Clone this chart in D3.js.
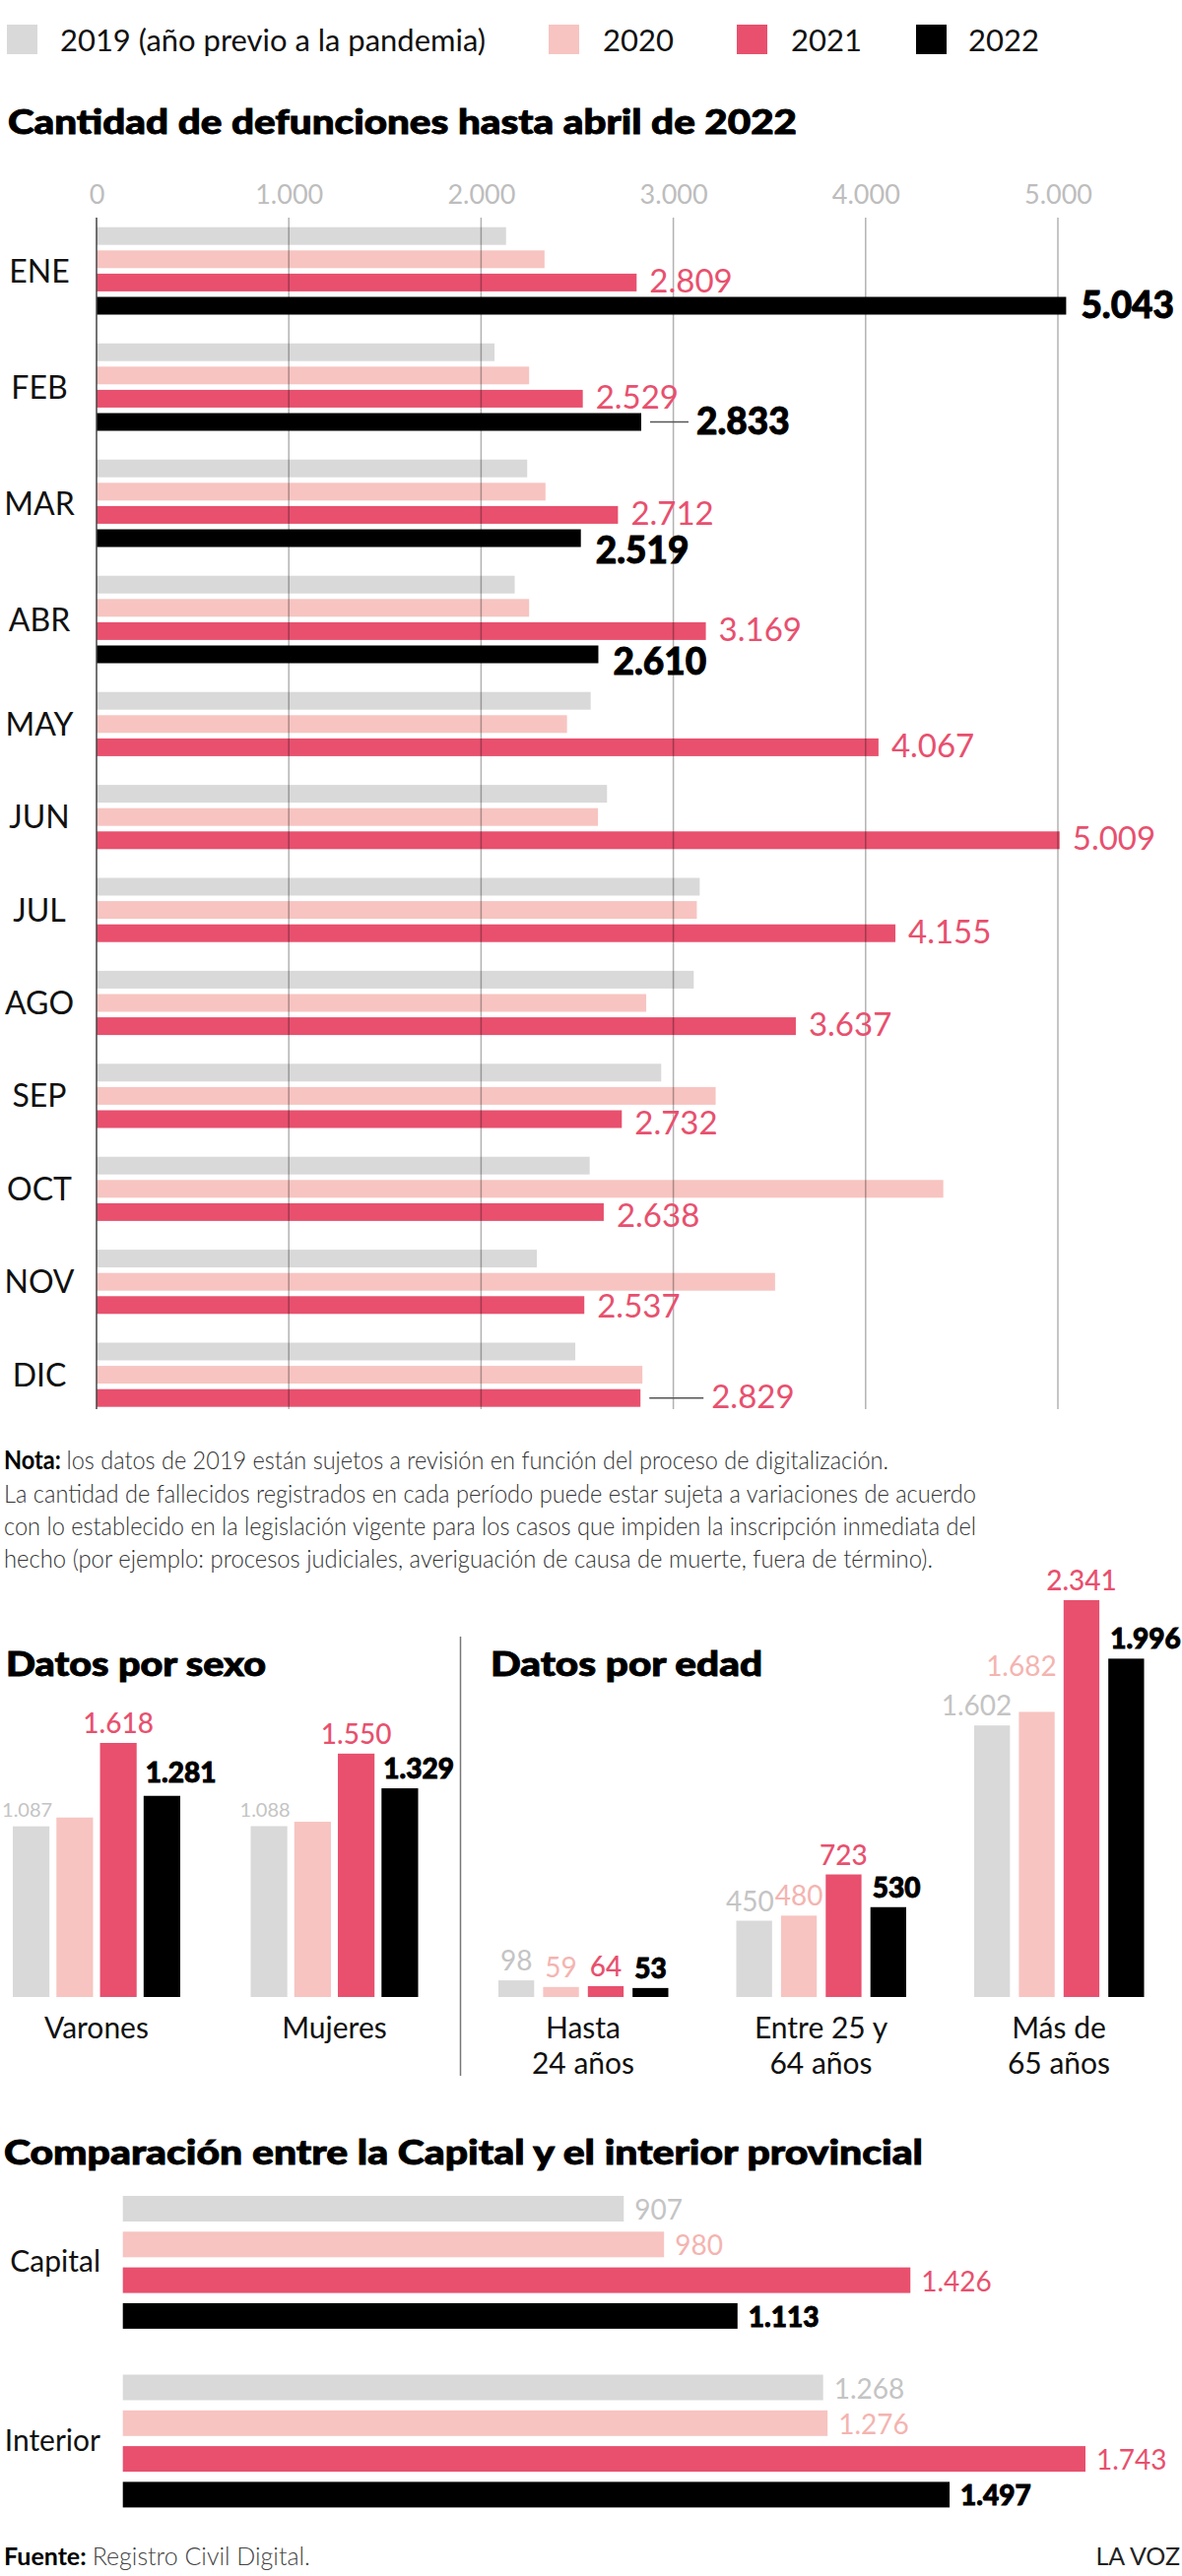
<!DOCTYPE html>
<html>
<head>
<meta charset="utf-8">
<script src="https://cdn.jsdelivr.net/npm/d3@7"></script>
<style>
	body { margin: 0; background: #fff; }
	svg text { font-family: Lato, "Open Sans", sans-serif; }
	.heavy { stroke: #000; stroke-width: 0.9; paint-order: stroke; }
</style>
</head>
<body>
<svg id="grafico" width="1200" height="2616"></svg>
<script>
// Datos
const years = ["2019", "2020", "2021", "2022"];
const yearNames = ["2019 (año previo a la pandemia)", "2020", "2021", "2022"];
const months = ["ENE", "FEB", "MAR", "ABR", "MAY", "JUN", "JUL", "AGO", "SEP", "OCT", "NOV", "DIC"];
const deaths2019 = [2130, 2070, 2240, 2175, 2570, 2655, 3137, 3106, 2937, 2565, 2290, 2490];
const deaths2020 = [2330, 2250, 2335, 2250, 2447, 2608, 3122, 2859, 3220, 4404, 3529, 2839];
const deaths2021 = [2809, 2529, 2712, 3169, 4067, 5009, 4155, 3637, 2732, 2638, 2537, 2829];
const deaths2022 = [5043, 2833, 2519, 2610, null, null, null, null, null, null, null, null];
const axisTicks = [0, 1000, 2000, 3000, 4000, 5000];

const sexCats = ["Varones", "Mujeres"];
const sex2019 = [1087, 1088];
const sex2020 = [1143, 1116];
const sex2021 = [1618, 1550];
const sex2022 = [1281, 1329];

const ageCats = [["Hasta", "24 años"], ["Entre 25 y", "64 años"], ["Más de", "65 años"]];
const age2019 = [98, 450, 1602];
const age2020 = [59, 480, 1682];
const age2021 = [64, 723, 2341];
const age2022 = [53, 530, 1996];

const regionCats = ["Capital", "Interior"];
const region2019 = [907, 1268];
const region2020 = [980, 1276];
const region2021 = [1426, 1743];
const region2022 = [1113, 1497];

const noteLines = [
	"los datos de 2019 están sujetos a revisión en función del proceso de digitalización.",
	"La cantidad de fallecidos registrados en cada período puede estar sujeta a variaciones de acuerdo",
	"con lo establecido en la legislación vigente para los casos que impiden la inscripción inmediata del",
	"hecho (por ejemplo: procesos judiciales, averiguación de causa de muerte, fuera de término)."
];

// Estilos
const barColors = ["#d9d9d9", "#f7c4c1", "#e8506e", "#000000"];
const textColors = ["#c4c4c4", "#f4b4b0", "#e8506e", "#000000"];
const fmt = d3.formatLocale({ decimal: ",", thousands: ".", grouping: [3], currency: ["$", ""] }).format(",d");

const svg = d3.select("#grafico");

// Leyenda
const legendX = [[7, 61], [557, 612], [748, 803], [930, 983]];
const legend = svg.append("g").attr("class", "legend");
yearNames.forEach((name, i) => {
	legend.append("rect")
		.attr("x", legendX[i][0]).attr("y", 25)
		.attr("width", 31).attr("height", 30)
		.attr("fill", barColors[i]);
	const t = legend.append("text")
		.attr("x", legendX[i][1]).attr("y", 52)
		.attr("font-size", 31)
		.attr("fill", "#111")
		.text(name);
	if (i === 0) t.attr("textLength", 432).attr("lengthAdjust", "spacingAndGlyphs");
});

const title = (txt, x, y, len) => svg.append("text")
	.attr("class", "heavy")
	.attr("x", x).attr("y", y)
	.attr("font-size", 35).attr("font-weight", 900)
	.attr("textLength", len).attr("lengthAdjust", "spacingAndGlyphs")
	.text(txt);

// ---------- Cantidad de defunciones por mes ----------
title("Cantidad de defunciones hasta abril de 2022", 8, 136, 801);

const series = [deaths2019, deaths2020, deaths2021, deaths2022];
const rows = [];
const groups = [];
let slot = 0;
months.forEach((m, i) => {
	const first = slot;
	series.forEach((s, j) => {
		if (s[i] != null) rows.push({ month: m, year: j, value: s[i], slot: slot++ });
	});
	groups.push({ month: m, first: first, last: slot - 1 });
	slot++; // hueco entre meses
});

const barH = 18;
const x = d3.scaleLinear().domain([0, 5000]).range([98, 1074]);
const y = d3.scaleLinear().domain([0, slot]).range([230.7, 230.7 + slot * 23.6]);

svg.append("g")
	.attr("class", "x axis")
	.attr("transform", "translate(0,207)")
	.call(d3.axisTop(x).tickValues(axisTicks).tickFormat(fmt).tickSize(0).tickPadding(0))
	.call(g => g.select(".domain").remove())
	.selectAll("text")
	.attr("font-size", 27)
	.attr("font-family", "Lato, sans-serif")
	.attr("fill", "#bdbdbd");

svg.append("g")
	.attr("class", "bars")
	.selectAll("rect")
	.data(rows)
	.enter()
	.append("rect")
	.attr("x", x(0))
	.attr("y", d => y(d.slot))
	.attr("width", d => x(d.value) - x(0))
	.attr("height", barH)
	.attr("fill", d => barColors[d.year]);

// lineas de la grilla por encima de las barras
svg.append("g")
	.selectAll("line")
	.data(axisTicks.slice(1))
	.enter()
	.append("line")
	.attr("x1", d => x(d)).attr("x2", d => x(d))
	.attr("y1", 221).attr("y2", 1431)
	.attr("stroke", "#000").attr("stroke-opacity", 0.3)
	.attr("stroke-width", 1.5);
svg.append("line")
	.attr("x1", x(0)).attr("x2", x(0))
	.attr("y1", 221).attr("y2", 1431)
	.attr("stroke", "#444").attr("stroke-width", 1.5);

svg.append("g")
	.selectAll("text")
	.data(groups)
	.enter()
	.append("text")
	.attr("x", 40)
	.attr("y", d => (y(d.first) + y(d.last) + barH) / 2 + 11.5)
	.attr("text-anchor", "middle")
	.attr("font-size", 32)
	.attr("fill", "#111")
	.text(d => d.month);

// etiquetas: 2021 y 2022
const nudge = { "ENE-3": 2, "FEB-3": 2, "MAR-3": 15, "ABR-3": 10, "SEP-2": 5, "OCT-2": 5, "NOV-2": 3 };
const leader = { "FEB-3": 39, "DIC-2": 55 };
const labeled = rows.filter(d => d.year >= 2);
labeled.forEach(d => {
	const key = d.month + "-" + d.year;
	const end = x(d.value);
	let tx = end + (d.year === 3 ? 15 : 13);
	if (leader[key]) {
		svg.append("line")
			.attr("x1", end + 9).attr("x2", end + 9 + leader[key])
			.attr("y1", y(d.slot) + barH / 2).attr("y2", y(d.slot) + barH / 2)
			.attr("stroke", "#555").attr("stroke-width", 1.5);
		tx = end + 17 + leader[key];
	}
	svg.append("text")
		.attr("class", d.year === 3 ? "heavy" : null)
		.attr("x", tx)
		.attr("y", y(d.slot) + barH + 1 + (nudge[key] || 0))
		.attr("font-size", d.year === 3 ? 37 : 33)
		.attr("font-weight", d.year === 3 ? 900 : 400)
		.attr("fill", textColors[d.year])
		.text(fmt(d.value));
});

// ---------- Nota ----------
const noteY = [1492, 1526, 1559, 1592];
const noteLen = [898, 987, 987, 943];
noteLines.forEach((line, i) => {
	const t = svg.append("text")
		.attr("x", 4).attr("y", noteY[i])
		.attr("font-size", 26)
		.attr("textLength", noteLen[i]).attr("lengthAdjust", "spacingAndGlyphs")
		.attr("fill", "#333").attr("font-weight", 300);
	if (i === 0) {
		t.append("tspan").attr("font-weight", 700).attr("fill", "#000").text("Nota: ");
	}
	t.append("tspan").text(line);
});

// ---------- Datos por sexo / edad ----------
title("Datos por sexo", 6, 1702, 264);
title("Datos por edad", 498, 1702, 276);
svg.append("line")
	.attr("x1", 467.5).attr("x2", 467.5)
	.attr("y1", 1662).attr("y2", 2108)
	.attr("stroke", "#777").attr("stroke-width", 1.5);

const base = 2028;
const i2k = (cats, i) => Array.isArray(cats[i]) ? cats[i].join(" ") : cats[i];
const columnChart = (cats, vals, x0, x1, yS, opts) => {
	const data = [];
	cats.forEach((c, i) => vals.forEach((v, j) => data.push({ cat: i, year: j, value: v[i] })));
	const g = svg.append("g");
	g.selectAll("rect")
		.data(data)
		.enter()
		.append("rect")
		.attr("x", d => x0(i2k(cats, d.cat)) + x1(years[d.year]))
		.attr("y", d => yS(d.value))
		.attr("width", x1.bandwidth())
		.attr("height", d => base - yS(d.value))
		.attr("fill", d => barColors[d.year]);
	g.selectAll("text.val")
		.data(data.filter(d => opts.show.includes(d.year)))
		.enter()
		.append("text")
		.attr("class", d => d.year === 3 ? "val heavy" : "val")
		.each(function(d) {
			const bx = x0(i2k(cats, d.cat)) + x1(years[d.year]);
			const w = x1.bandwidth();
			const n = opts.nudge[d.cat + "-" + d.year] || opts.nudge["*-" + d.year] || {};
			const anchor = n.anchor || ["end", "middle", "middle", "start"][d.year];
			const tx = anchor === "end" ? bx + w + 2 : anchor === "start" ? bx + 2 : bx + w / 2;
			d3.select(this)
				.attr("x", tx + (n.dx || 0))
				.attr("y", yS(d.value) - 10 - (n.dy || 0))
				.attr("text-anchor", anchor)
				.attr("font-size", d.year === 0 ? opts.grayFont : 28)
				.attr("font-weight", d.year === 3 ? 900 : d.year === 2 ? 500 : 400)
				.attr("fill", textColors[d.year])
				.text(fmt(d.value));
		});
	return g;
};

const x0s = d3.scaleBand().domain(sexCats).range([13, 496]);
const x1s = d3.scaleBand().domain(years).range([0, 170]).paddingInner(0.16);
const ys = d3.scaleLinear().domain([0, d3.max(sex2021)]).range([base, 1770]);
columnChart(sexCats, [sex2019, sex2020, sex2021, sex2022], x0s, x1s, ys,
	{ show: [0, 2, 3], grayFont: 20, nudge: { "*-0": { anchor: "middle", dx: -4 }, "0-3": { dy: 4 } } });

svg.append("g")
	.selectAll("text")
	.data(sexCats)
	.enter()
	.append("text")
	.attr("x", d => x0s(d) + 85)
	.attr("y", 2070)
	.attr("text-anchor", "middle")
	.attr("font-size", 30)
	.attr("fill", "#111")
	.text(d => d);

const ageKeys = ageCats.map(d => d.join(" "));
const x0a = d3.scaleBand().domain(ageKeys).range([506, 506 + 3 * 241.5]);
const x1a = d3.scaleBand().domain(years).range([0, 172.5]).paddingInner(0.2);
const ya = d3.scaleLinear().domain([0, d3.max(age2021)]).range([base, 1625]);
columnChart(ageCats, [age2019, age2020, age2021, age2022], x0a, x1a, ya,
	{ show: [0, 1, 2, 3], grayFont: 28, nudge: { "0-0": { anchor: "middle" }, "2-1": { anchor: "end", dy: 26 } } });

const ageLabels = svg.append("g")
	.selectAll("text")
	.data(ageCats)
	.enter()
	.append("text")
	.attr("text-anchor", "middle")
	.attr("font-size", 30)
	.attr("fill", "#111");
ageLabels.append("tspan")
	.attr("x", d => x0a(d.join(" ")) + 86)
	.attr("y", 2070)
	.text(d => d[0]);
ageLabels.append("tspan")
	.attr("x", d => x0a(d.join(" ")) + 86)
	.attr("y", 2106)
	.text(d => d[1]);

// ---------- Capital vs interior ----------
title("Comparación entre la Capital y el interior provincial", 4, 2198, 933);

const regionSeries = [region2019, region2020, region2021, region2022];
const regionRows = [];
regionCats.forEach((c, i) => regionSeries.forEach((s, j) =>
	regionRows.push({ cat: c, year: j, value: s[i], slot: i * 5 + j })));

const rBarH = 26;
const xr = d3.scaleLinear().domain([0, d3.max(region2021)]).range([124.7, 1102]);
const yr = d3.scaleLinear().domain([0, 9]).range([2230, 2230 + 9 * 36.3]);

const rg = svg.append("g");
rg.selectAll("rect")
	.data(regionRows)
	.enter()
	.append("rect")
	.attr("x", xr(0))
	.attr("y", d => yr(d.slot))
	.attr("width", d => xr(d.value) - xr(0))
	.attr("height", rBarH)
	.attr("fill", d => barColors[d.year]);
rg.selectAll("text.val")
	.data(regionRows)
	.enter()
	.append("text")
	.attr("class", d => d.year === 3 ? "val heavy" : "val")
	.attr("x", d => xr(d.value) + 11)
	.attr("y", d => yr(d.slot) + rBarH - 2)
	.attr("font-size", 28)
	.attr("font-weight", d => d.year === 3 ? 900 : 400)
	.attr("fill", d => textColors[d.year])
	.text(d => fmt(d.value));
rg.selectAll("text.cat")
	.data(regionCats)
	.enter()
	.append("text")
	.attr("x", 102)
	.attr("y", (d, i) => (yr(i * 5) + yr(i * 5 + 3) + rBarH) / 2 + 10)
	.attr("text-anchor", "end")
	.attr("font-size", 30)
	.attr("fill", "#111")
	.text(d => d);

// Fuente
const src = svg.append("text")
	.attr("x", 4).attr("y", 2605)
	.attr("font-size", 25);
src.append("tspan").attr("font-weight", 700).text("Fuente:");
src.append("tspan").attr("font-weight", 300).attr("fill", "#444").attr("dx", 6).text("Registro Civil Digital.");
svg.append("text")
	.attr("x", 1198).attr("y", 2605)
	.attr("text-anchor", "end")
	.attr("font-size", 25)
	.attr("fill", "#222")
	.text("LA VOZ");
</script>
</body>
</html>
